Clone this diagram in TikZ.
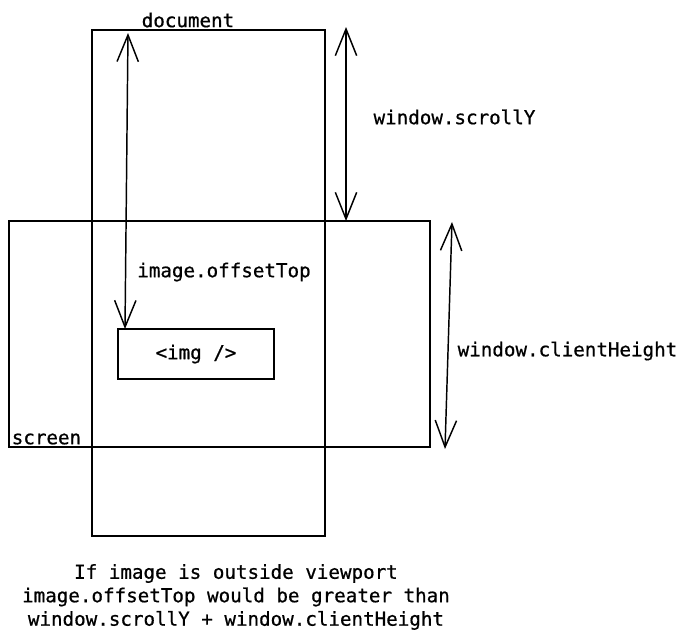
\documentclass[tikz,border=0pt]{standalone}
\usepackage{fontspec}
\setmonofont{DejaVu Sans Mono}
\newfontfamily\sketchmono{DejaVu Sans Mono}[FakeBold=0.7]
\usetikzlibrary{arrows.meta}
\newcommand{\labelfont}{\sketchmono\fontsize{14.4}{17.6}\selectfont}

\begin{document}
\begin{tikzpicture}[x=.75pt,y=-.75pt,
    box/.style={draw, line width=.9pt},
    span/.style={line width=1.1pt, {Straight Barb[length=20pt,width=16pt]}-{Straight Barb[length=20pt,width=16pt]}},
    lbl/.style={inner sep=0pt, font=\labelfont}]
    \useasboundingbox (0,0) rectangle (690,643);

      % the page and the visible part
      \coordinate (docTL) at (92,30);
      \coordinate (docBR) at (325,536);
      \coordinate (scrTL) at (9,221);
      \coordinate (scrBR) at (430,447);
      \draw[box] (docTL) rectangle (docBR);
      \draw[box] (scrTL) rectangle (scrBR);

      \node (img) at (196,354) [box, minimum width=117pt, minimum height=37.5pt, font=\labelfont] {<img />};

      % measures
      \coordinate (offA) at (128,33);
      \coordinate (offB) at (125,329);
      \coordinate (scrA) at (346,27);
      \coordinate (scrB) at (346,221);
      \coordinate (cliA) at (452,222);
      \coordinate (cliB) at (445,449);
      \draw[span] (offA) to (offB);
      \draw[span] (scrA) to (scrB);
      \draw[span] (cliA) to (cliB);

      \node (doc) at (188,20) [lbl] {document};
      \node (scr) at (46.5,439) [lbl] {screen};
      \node (offTop) at (224,272) [lbl] {image.offsetTop};
      \node (scrollY) at (454.5,117) [lbl] {window.scrollY};
      \node (client) at (567.5,351) [lbl] {window.clientHeight};
      \node (note) at (236,597) [lbl, align=center] {If image is outside viewport\\image.offsetTop would be greater than\\window.scrollY + window.clientHeight};

  \end{tikzpicture}
\end{document}
